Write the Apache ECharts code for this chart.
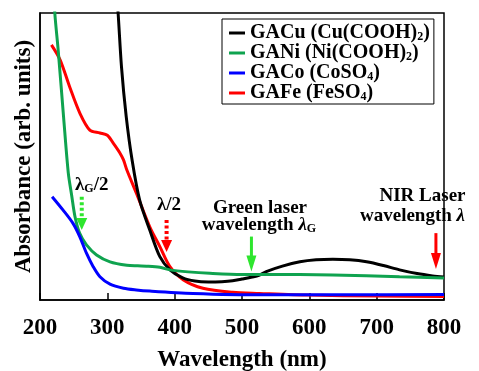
<!DOCTYPE html>
<html>
<head>
<meta charset="utf-8">
<script src="https://cdn.jsdelivr.net/npm/echarts@6/dist/echarts.min.js"></script>
<style>html,body{margin:0;padding:0;background:#fff;}#c{width:479px;height:371px;}</style>
</head>
<body>
<div id="c"></div>
<script>
// ---- data (wavelength nm, absorbance arb. units) ----
var xTicks = [200, 300, 400, 500, 600, 700, 800];
var seriesNames = ['GACu', 'GANi', 'GACo', 'GAFe'];
var legendLabels = {
  GACu: '{b|GACu (Cu(COOH)}{s|2}{b|)}',
  GANi: '{b|GANi (Ni(COOH)}{s|2}{b|)}',
  GACo: '{b|GACo (CoSO}{s|4}{b|)}',
  GAFe: '{b|GAFe (FeSO}{s|4}{b|)}'
};
var gaCu = [[312,112],[316,100],[321,81.3],[328,64],[337,48.4],[348,34.8],[363,24.4],[378,15.1],[393,10.5],[412,7.7],[430,6.6],[450,6.3],[470,6.4],[486,6.7],[500,7.3],[515,8.0],[526,8.7],[536,9.9],[560,11.8],[586,13.3],[610,14.0],[635,14.2],[660,14.0],[685,13.3],[710,12.0],[734,10.5],[760,9.2],[783,8.4],[800,8.0]];
var gaNi = [[219,115],[222,100],[227,87.1],[235,63.8],[242,44.3],[247,36.5],[252,29.0],[259,23.2],[269,19.2],[284,15.7],[304,13.3],[329,12.1],[345,11.9],[358,11.8],[378,11.4],[393,10.5],[420,9.8],[452,9.3],[500,8.9],[536,8.9],[635,8.7],[734,8.1],[800,7.7]];
var gaCo = [[218,36.0],[234,31.4],[249,26.7],[259,22.1],[269,16.3],[279,11.6],[289,8.1],[304,5.5],[324,4.1],[343,3.5],[363,3.1],[427,2.3],[526,1.8],[650,1.8],[800,1.9]];
var gaFe = [[217,88.9],[230,83.6],[244,74.3],[259,65.2],[274,59.2],[289,58.2],[300,57.4],[309,54.6],[318,51.5],[324,48.8],[329,45.3],[343,37.3],[363,25.5],[378,18.6],[393,11.6],[413,7.0],[442,4.1],[486,2.7],[526,2.3],[600,1.7],[700,1.4],[800,1.2]];
// annotation arrows: wavelength, start value, tip value
var arrowX    = [262, 388, 514, 788];
var arrowFrom = [36.0, 27.9, 22.1, 23.3];
var arrowTo   = [24.4, 16.7, 9.9, 10.8];
var arrowDotted = [true, true, false, false];
var arrowColor = ['#2ee62e', '#ff0000', '#2ee62e', '#ff0000'];

var FF = 'Liberation Serif';
var colors = {GACu:'#000000', GANi:'#0fa34f', GACo:'#0000ff', GAFe:'#ff0000'};
var dataMap = {GACu: gaCu, GANi: gaNi, GACo: gaCo, GAFe: gaFe};

var chart = echarts.init(document.getElementById('c'));

function lineSeries(name, z) {
  return {
    name: name, type: 'line', data: dataMap[name], showSymbol: false, symbol: 'none',
    smooth: 0.3, z: z,
    lineStyle: {color: colors[name], width: 3}, itemStyle: {color: colors[name]}
  };
}

var arrowData = arrowX.map(function (x, i) { return [x, arrowFrom[i], arrowTo[i], i]; });

function richText(text, x, y, align) {
  return {
    type: 'text', x: x, y: y, z: 50,
    style: {
      text: text, fontFamily: FF, fontWeight: 'bold', fontSize: 19, fill: '#000',
      align: align, verticalAlign: 'middle',
      rich: {
        s: {fontFamily: FF, fontWeight: 'bold', fontSize: 12, fill: '#000', verticalAlign: 'bottom', lineHeight: 6},
        i: {fontFamily: FF, fontWeight: 'bold', fontStyle: 'italic', fontSize: 19, fill: '#000'}
      }
    }
  };
}

chart.setOption({
  animation: false,
  grid: {left: 40, right: 35, top: 13, bottom: 71, show: true, borderColor: '#000', borderWidth: 1.5,
    backgroundColor: 'transparent', containLabel: false, outerBoundsMode: 'none'},
  legend: {
    orient: 'vertical', left: 222, top: 19, data: seriesNames,
    icon: 'rect', itemWidth: 16, itemHeight: 3, itemGap: 0,
    borderColor: '#000', borderWidth: 1, backgroundColor: '#fff', borderRadius: 0,
    padding: [4, 4, 1, 7], selectedMode: false,
    formatter: function (n) { return legendLabels[n]; },
    textStyle: {
      fontFamily: FF, fontWeight: 'bold', fontSize: 20, lineHeight: 19, color: '#000',
      rich: {
        b: {fontFamily: FF, fontWeight: 'bold', fontSize: 20, lineHeight: 19, color: '#000'},
        s: {fontFamily: FF, fontWeight: 'bold', fontSize: 12, color: '#000', verticalAlign: 'bottom', lineHeight: 6}
      }
    }
  },
  xAxis: {
    type: 'value', min: 200, max: 800, interval: 100,
    name: 'Wavelength (nm)', nameLocation: 'middle', nameGap: 49,
    nameTextStyle: {fontFamily: FF, fontWeight: 'bold', fontSize: 23, color: '#000'},
    axisLine: {show: true, lineStyle: {color: '#000', width: 1.5}},
    axisTick: {show: true, inside: true, length: 7, lineStyle: {color: '#000', width: 1.5}},
    axisLabel: {margin: 17, fontFamily: FF, fontWeight: 'bold', fontSize: 23, color: '#000',
      formatter: function (v) { return xTicks.indexOf(v) >= 0 ? String(v) : ''; }},
    splitLine: {show: false}
  },
  yAxis: {
    type: 'value', min: 0, max: 100,
    name: 'Absorbance (arb. units)', nameLocation: 'middle', nameGap: 4,
    nameTextStyle: {fontFamily: FF, fontWeight: 'bold', fontSize: 23, color: '#000'},
    axisLine: {show: true, lineStyle: {color: '#000', width: 1.5}},
    axisTick: {show: false}, axisLabel: {show: false}, splitLine: {show: false}
  },
  series: [
    lineSeries('GAFe', 2), lineSeries('GACu', 3), lineSeries('GANi', 4), lineSeries('GACo', 5),
    {
      type: 'custom', name: 'arrows', data: arrowData, z: 10, silent: true,
      renderItem: function (params, api) {
        var i = api.value(3);
        var p1 = api.coord([api.value(0), api.value(1)]);
        var p2 = api.coord([api.value(0), api.value(2)]);
        var dotted = arrowDotted[i];
        var hl = dotted ? 12 : 16, hw = dotted ? 11 : 10;
        var c = arrowColor[i];
        return {
          type: 'group',
          children: [
            {type: 'line', shape: {x1: p1[0], y1: p1[1], x2: p2[0], y2: p2[1] - hl + 1},
             style: {stroke: c, lineWidth: dotted ? 4 : 3, lineDash: dotted ? [3, 2.5] : null}},
            {type: 'polygon', shape: {points: [[p2[0] - hw / 2, p2[1] - hl], [p2[0] + hw / 2, p2[1] - hl], [p2[0], p2[1]]]},
             style: {fill: c}}
          ]
        };
      }
    }
  ],
  graphic: [
    richText('λ{s|G}/2', 75, 185.5, 'left'),
    richText('λ/2', 157, 205, 'left'),
    richText('Green laser', 260, 208.5, 'center'),
    richText('wavelength {i|λ}{s|G}', 259, 225.5, 'center'),
    richText('NIR Laser', 422.5, 196, 'center'),
    richText('wavelength {i|λ}', 360, 216.5, 'left')
  ]
});
</script>
</body>
</html>
